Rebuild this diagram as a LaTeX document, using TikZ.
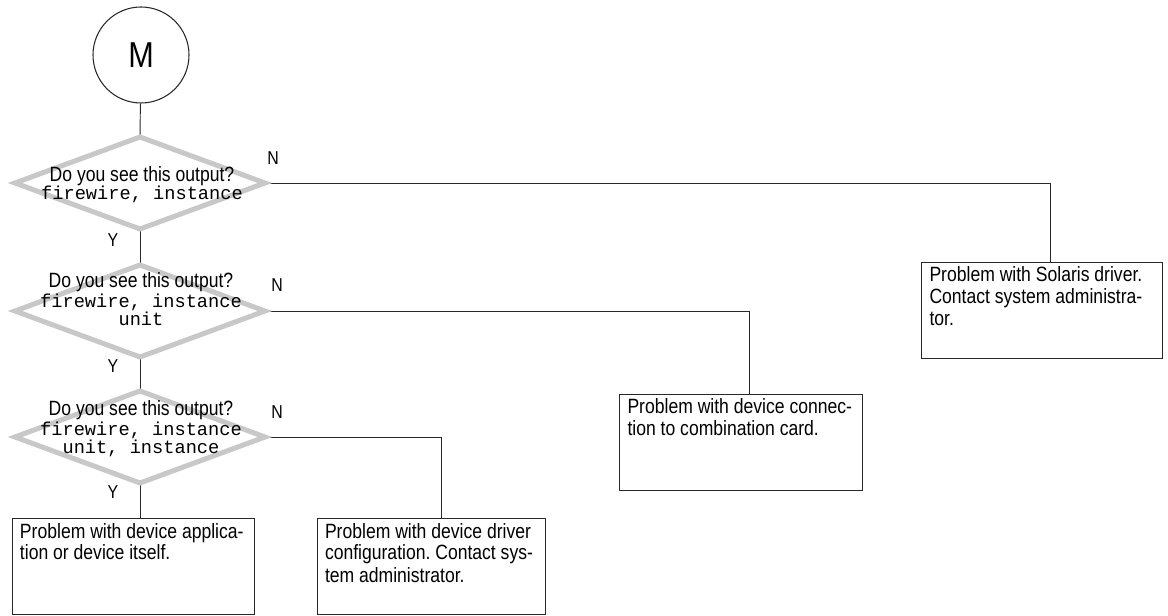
\documentclass[tikz,border=0pt]{standalone}
\usepackage{fontspec}
\newfontfamily\narrowsans[FakeStretch=0.85]{Liberation Sans}
\newfontfamily\codefont{Liberation Mono}
\definecolor{DiamondGray}{RGB}{200,200,200}
\definecolor{LineColor}{RGB}{40,40,40}
\usetikzlibrary{shapes.geometric, backgrounds}
\newcommand{\shownout}[1]{{\codefont\fontsize{14}{13.5}\selectfont #1}}
\tikzset{
    start/.style={
        circle,
        draw=LineColor,
        line width=0.8pt,
        minimum size=72pt,
        inner sep=0pt,
        font=\narrowsans\fontsize{27}{27}\selectfont
    },
    decision/.style={
        diamond,
        draw=DiamondGray,
        line width=3.75pt,
        minimum width=187.5pt,
        minimum height=69pt,
        inner sep=0pt,
        outer sep=0pt
    },
    question/.style={
        align=center,
        inner sep=0pt,
        anchor=north,
        font=\narrowsans\fontsize{15.5}{13.5}\selectfont
    },
    outcome/.style={
        rectangle,
        draw=LineColor,
        line width=0.7pt,
        align=flush left,
        inner xsep=6pt,
        inner ysep=4pt,
        text height=11pt,
        text depth=53pt,
        font=\narrowsans\fontsize{15.5}{16.5}\selectfont\frenchspacing
    },
    answer/.style={inner sep=0pt, font=\narrowsans\fontsize{14}{14}\selectfont},
    link/.style={draw=LineColor, line width=0.7pt}
}
\begin{document}
\begin{tikzpicture}[x=0.75pt, y=-0.75pt]
        \useasboundingbox (0,0) rectangle (1168,616);

        % start and questions
        \node[start] (start) at (141,55) {M};

        \node[decision] (d1) at (140,183) {};
        \node[question] (q1) at (142,166) {Do you see this output?\\\shownout{firewire, instance}};

        \node[decision] (d2) at (140,311) {};
        \node[question] (q2) at (141,272) {Do you see this output?\\[2pt]\shownout{firewire, instance}\\\shownout{unit}};

        \node[decision] (d3) at (140,437) {};
        \node[question] (q3) at (141,400) {Do you see this output?\\[2pt]\shownout{firewire, instance}\\\shownout{unit, instance}};

        % outcomes
        \node[outcome, text width=168.75pt] (sol) at (1042,310) {Problem with Solaris driver.\\Contact system administra-\\tor.};
        \node[outcome, text width=170.25pt] (conn) at (741,442) {Problem with device connec-\\tion to combination card.};
        \node[outcome, text width=159pt] (drv) at (431,566) {Problem with device driver\\configuration. Contact sys-\\tem administrator.};
        \node[outcome, text width=169.5pt] (app) at (133,566) {Problem with device applica-\\tion or device itself.};

        % answers
        \node[answer] (n1) at (273,158) {N};
        \node[answer] (n2) at (277,285) {N};
        \node[answer] (n3) at (277,412) {N};
        \node[answer] (y1) at (113,240) {Y};
        \node[answer] (y2) at (113,366) {Y};
        \node[answer] (y3) at (113,492) {Y};

        \begin{scope}[on background layer]
            \draw[link] (start) -- (d1.north);
            \draw[link] (d1.south) -- (d2.north);
            \draw[link] (d2.south) -- (d3.north);
            \draw[link] (d3.south) -- (d3.south |- app.north);
            \draw[link] (d1.east) -| ([xshift=6pt]sol.north);
            \draw[link] (d2.east) -| ([xshift=6pt]conn.north);
            \draw[link] (d3.east) -| ([xshift=8pt]drv.north);
        \end{scope}

\end{tikzpicture}
\end{document}
